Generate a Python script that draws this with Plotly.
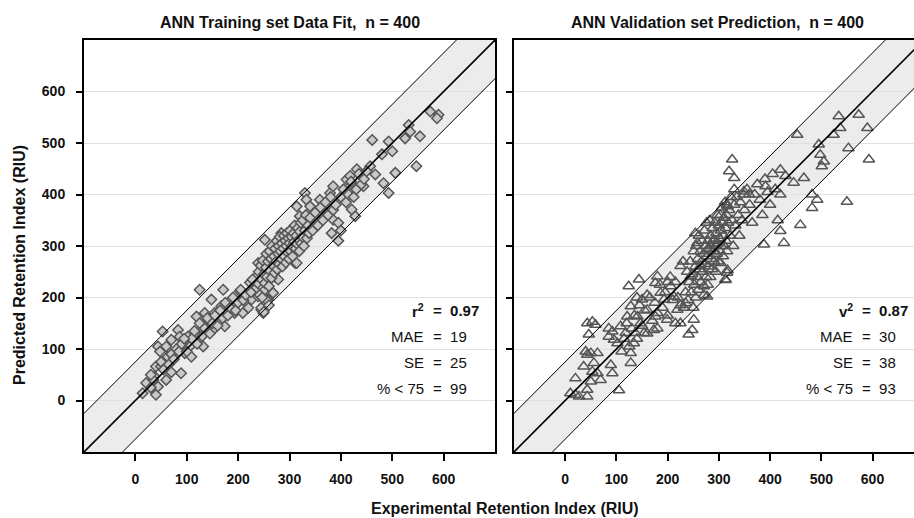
import plotly.graph_objects as go

# ---------------- data ----------------
train_x = [14, 21, 40, 44, 37, 40, 50, 44, 53, 63, 60, 70, 83, 86, 89, 96, 102, 109, 106, 119,
           125, 128, 132, 135, 141, 148, 151, 154, 167, 171, 174, 187, 193, 203, 209, 216, 223, 226,
           239, 245, 249, 252, 258, 268, 271, 278, 239, 252, 265, 278, 291, 304, 311, 317, 284, 324,
           314, 330, 333, 314, 320, 340, 359, 353, 379, 385, 372, 385, 382, 411, 418, 431, 424, 428,
           421, 444, 461, 457, 467, 480, 493, 500, 483, 493, 506, 525, 532, 535, 554, 547, 574, 590, 587,
           232, 235, 238, 240, 242, 244, 246, 248, 250, 252, 254, 255, 256, 258, 260, 261, 262, 264,
           265, 266, 268, 270, 271, 272, 274, 275, 276, 278, 279, 280, 281, 282, 284, 285, 286, 288,
           289, 290, 292, 293, 294, 295, 296, 298, 299, 300, 301, 302, 304, 305, 306, 308, 309, 310,
           312, 313, 314, 316, 318, 319, 320, 322, 323, 325, 326, 328, 330, 332, 334, 336, 338, 340,
           245, 250, 255, 260, 247,
           110, 115, 120, 125, 130, 135, 140, 145, 150, 155, 160, 165, 170, 175, 180, 185, 190, 195,
           200, 205, 210, 215, 220, 225, 228,
           30, 35, 50, 55, 65, 70, 75, 80, 85, 90, 95, 100, 60, 70, 30, 48,
           345, 350, 355, 360, 365, 370, 375, 380, 385, 390, 395, 400, 405, 410, 415, 420, 425, 430,
           435, 440, 445, 450, 400, 395]
train_y = [14, 34, 11, 27, 47, 66, 66, 105, 134, 85, 105, 118, 137, 124, 53, 92, 124, 85, 105, 163,
           215, 137, 105, 170, 157, 196, 137, 170, 183, 215, 144, 196, 170, 212, 170, 189, 229, 196,
           202, 176, 170, 215, 196, 209, 241, 235, 267, 312, 286, 267, 286, 312, 267, 325, 325, 338,
           267, 403, 390, 377, 358, 377, 390, 351, 403, 416, 364, 351, 325, 429, 436, 449, 416, 358,
           371, 416, 506, 455, 439, 478, 503, 484, 422, 403, 442, 509, 535, 522, 513, 455, 561, 555, 548,
           215, 240, 228, 250, 205, 262, 235, 272, 245, 228, 258, 285, 240, 270, 222, 290, 252, 275,
           238, 300, 262, 280, 248, 295, 270, 310, 255, 285, 300, 265, 318, 290, 275, 305, 260, 295,
           320, 280, 310, 268, 300, 325, 288, 315, 275, 305, 330, 290, 318, 300, 280, 325, 308, 340,
           295, 320, 305, 335, 312, 290, 328, 345, 305, 318, 350, 300, 330, 360, 315, 340, 325, 355,
           180, 172, 195, 185, 200,
           120, 135, 110, 150, 125, 140, 160, 130, 150, 165, 145, 175, 160, 190, 165, 180, 200, 175,
           190, 215, 195, 205, 180, 210, 235,
           25, 40, 75, 60, 70, 90, 80, 100, 95, 110, 120, 95, 40, 55, 50, 95,
           330, 365, 340, 375, 350, 385, 360, 395, 370, 380, 345, 395, 410, 385, 400, 425, 395, 410,
           440, 420, 430, 445, 330, 310]

valid_x = [20, 27, 43, 10, 20, 43, 50, 105, 36, 43, 40, 50, 63, 56, 53, 63, 69, 46, 43, 53, 59,
           85, 92, 85, 95, 102, 89, 92, 108, 118, 121, 128, 124, 144, 128, 128, 134, 137, 141, 147,
           150, 154, 160, 173, 176, 180, 176, 186, 193, 199, 206, 212, 219, 225, 225, 235, 241, 248,
           251, 245, 254, 258, 264, 271, 277, 277, 290, 303, 316, 313, 316,
           326, 320, 330, 330, 317, 349, 359, 391, 420, 430, 446, 466, 453, 482, 492, 482, 459, 420,
           427, 388, 495, 498, 501, 505, 524, 534, 537, 553, 550, 573, 590, 593, 313, 317,
           232, 235, 238, 240, 242, 244, 246, 248, 250, 251, 252, 254, 255, 256, 258, 259, 260, 261,
           262, 264, 265, 266, 267, 268, 270, 271, 272, 273, 274, 275, 276, 277, 278, 279, 280, 281,
           282, 283, 284, 285, 286, 287, 288, 289, 290, 291, 292, 293, 294, 295, 296, 297, 298, 299,
           300, 301, 302, 303, 304, 305, 306, 307, 308, 309, 310, 311, 312, 313, 314, 315, 316, 318,
           320, 322, 324, 326, 328, 330, 332, 335, 338, 340, 342, 345, 348, 350, 355, 360, 365, 370,
           375, 380, 385, 390, 395, 400, 405, 410, 415, 420,
           110, 115, 120, 125, 130, 135, 140, 145, 150, 155, 160, 165, 170, 175, 180, 185, 190, 195,
           200, 205, 210, 215, 220, 225, 230, 215, 200, 180, 160, 140]
valid_y = [11, 8, 8, 14, 43, 21, 37, 20, 66, 89, 95, 92, 92, 73, 56, 53, 40, 128, 150, 153, 147,
           140, 134, 124, 118, 111, 69, 53, 144, 131, 163, 183, 222, 235, 92, 73, 111, 131, 163, 150,
           196, 131, 176, 137, 163, 241, 228, 209, 196, 157, 222, 202, 176, 261, 150, 189, 128, 137,
           157, 241, 325, 306, 261, 222, 293, 202, 312, 267, 248, 235, 380,
           468, 445, 432, 410, 377, 406, 400, 416, 448, 436, 423, 432, 516, 400, 390, 374, 341, 329,
           306, 303, 497, 477, 455, 464, 516, 552, 529, 490, 386, 555, 529, 468, 234, 253,
           180, 210, 250, 195, 230, 270, 210, 245, 180, 290, 225, 260, 200, 300, 240, 275, 215, 320,
           255, 290, 230, 270, 310, 250, 285, 205, 330, 265, 300, 240, 345, 280, 225, 310, 260, 295,
           350, 240, 320, 275, 300, 255, 335, 290, 310, 270, 345, 300, 250, 325, 285, 360, 305, 270,
           340, 315, 290, 360, 330, 300, 375, 345, 280, 320, 355, 300, 385, 335, 310, 360, 290, 345,
           370, 320, 395, 350, 300, 380, 340, 395, 360, 320, 385, 350, 400, 370, 410, 380, 345, 400,
           420, 390, 360, 430, 405, 380, 440, 410, 350, 400,
           95, 120, 150, 105, 140, 165, 120, 185, 145, 175, 130, 200, 155, 190, 170, 225, 180, 210,
           165, 240, 195, 230, 200, 185, 270, 150, 230, 140, 205, 200]

y_ticks = [0, 100, 200, 300, 400, 500, 600]
x_ticks = [0, 100, 200, 300, 400, 500, 600]
band = 75
line_x = [-200, 800]

stats_labels = ["MAE", "SE", "% < 75"]
train_stats = ["19", "25", "99"]
valid_stats = ["30", "38", "93"]
train_r2 = "0.97"
valid_v2 = "0.87"
stat_y = [124, 73, 23]
head_y = 174

# ---------------- figure ----------------
W, H = 914, 518
ML, MR, MT, MB = 84, 0, 40, 66
PW = W - ML - MR

def px2paper(px):
    return (px - ML) / PW

fig = go.Figure()

FONT = "Liberation Sans, Arial, sans-serif"
DARK = "#555555"

fig.add_trace(go.Scatter(x=train_x, y=train_y, mode="markers", xaxis="x", yaxis="y",
                         marker=dict(symbol="diamond", size=8, color="#c9c9c9",
                                     line=dict(color=DARK, width=1.5)),
                         showlegend=False, hoverinfo="skip"))
fig.add_trace(go.Scatter(x=valid_x, y=valid_y, mode="markers", xaxis="x2", yaxis="y2",
                         marker=dict(symbol="triangle-up-open", size=10, color=DARK,
                                     line=dict(color=DARK, width=1.5)),
                         showlegend=False, hoverinfo="skip"))

for xa, ya in (("x", "y"), ("x2", "y2")):
    # band fill
    fig.add_shape(type="path", xref=xa, yref=ya, layer="below",
                  path=f"M {line_x[0]},{line_x[0] + band} L {line_x[1]},{line_x[1] + band} "
                       f"L {line_x[1]},{line_x[1] - band} L {line_x[0]},{line_x[0] - band} Z",
                  fillcolor="#ececec", line=dict(width=0))
    for off, w in ((band, 1), (-band, 1), (0, 1.6)):
        fig.add_trace(go.Scatter(x=line_x, y=[v + off for v in line_x], mode="lines",
                                 xaxis=xa, yaxis=ya, line=dict(color="black", width=w),
                                 showlegend=False, hoverinfo="skip"))

axis_common = dict(showline=True, linecolor="black", linewidth=2, ticks="outside",
                   tickcolor="black", tickwidth=1.5, zeroline=False,
                   tickfont=dict(family=FONT, size=14, color="#111111", weight="bold"))

fig.update_layout(
    width=W, height=H, margin=dict(l=ML, r=MR, t=MT, b=MB),
    paper_bgcolor="white", plot_bgcolor="white",
    xaxis=dict(domain=[0, px2paper(495)], range=[-100, 700], tickvals=x_ticks, ticklen=7,
               showgrid=False, mirror=True, anchor="y", ticklabelstandoff=6, **axis_common),
    yaxis=dict(domain=[0, 1], range=[-100, 700], tickvals=y_ticks, ticklen=6,
               showgrid=True, gridcolor="#e0e0e0", gridwidth=1, mirror=True, anchor="x",
               ticklabelstandoff=8, **axis_common),
    xaxis2=dict(domain=[px2paper(514), 1], range=[-100, 681], tickvals=x_ticks, ticklen=7,
                showgrid=False, mirror=True, anchor="y2", ticklabelstandoff=6, **axis_common),
    yaxis2=dict(domain=[0, 1], range=[-100, 700], tickvals=y_ticks, ticklen=6,
                showgrid=True, gridcolor="#e0e0e0", gridwidth=1, mirror=False, anchor="x2",
                showticklabels=False, **axis_common),
)

ann = []
tfont = dict(family=FONT, size=16, color="#111111")
ann.append(dict(x=px2paper(290), y=(H - 22 - MB) / (H - MT - MB), xref="paper", yref="paper",
                text="<b>ANN Training set Data Fit,\u00a0 n = 400</b>", showarrow=False,
                font=tfont, xanchor="center", yanchor="middle"))
ann.append(dict(x=px2paper(717), y=(H - 22 - MB) / (H - MT - MB), xref="paper", yref="paper",
                text="<b>ANN Validation set Prediction,\u00a0 n = 400</b>", showarrow=False,
                font=tfont, xanchor="center", yanchor="middle"))
ann.append(dict(x=px2paper(505), y=(H - 508 - MB) / (H - MT - MB), xref="paper", yref="paper",
                text="<b>Experimental Retention Index (RIU)</b>", showarrow=False,
                font=tfont, xanchor="center", yanchor="middle"))
ann.append(dict(x=px2paper(19), y=(H - 265 - MB) / (H - MT - MB), xref="paper", yref="paper",
                text="<b>Predicted Retention Index (RIU)</b>", showarrow=False, textangle=-90,
                font=tfont, xanchor="center", yanchor="middle"))

sfont = dict(family=FONT, size=15, color="#111111")
for xa, ya, head, hv, vals in (("x", "y", "r", train_r2, train_stats),
                                ("x2", "y2", "v", valid_v2, valid_stats)):
    ann.append(dict(x=565, y=head_y, xref=xa, yref=ya, text=f"<b>{head}<sup>2</sup></b>",
                    showarrow=False, font=sfont, xanchor="right", yanchor="middle"))
    ann.append(dict(x=575, y=head_y, xref=xa, yref=ya, text=f"<b>=\u00a0 {hv}</b>",
                    showarrow=False, font=sfont, xanchor="left", yanchor="middle"))
    for lab, val, yy in zip(stats_labels, vals, stat_y):
        ann.append(dict(x=565, y=yy, xref=xa, yref=ya, text=lab,
                        showarrow=False, font=sfont, xanchor="right", yanchor="middle"))
        ann.append(dict(x=575, y=yy, xref=xa, yref=ya, text=f"=\u00a0 {val}",
                        showarrow=False, font=sfont, xanchor="left", yanchor="middle"))

fig.update_layout(annotations=ann)
fig.write_html("out.html")
